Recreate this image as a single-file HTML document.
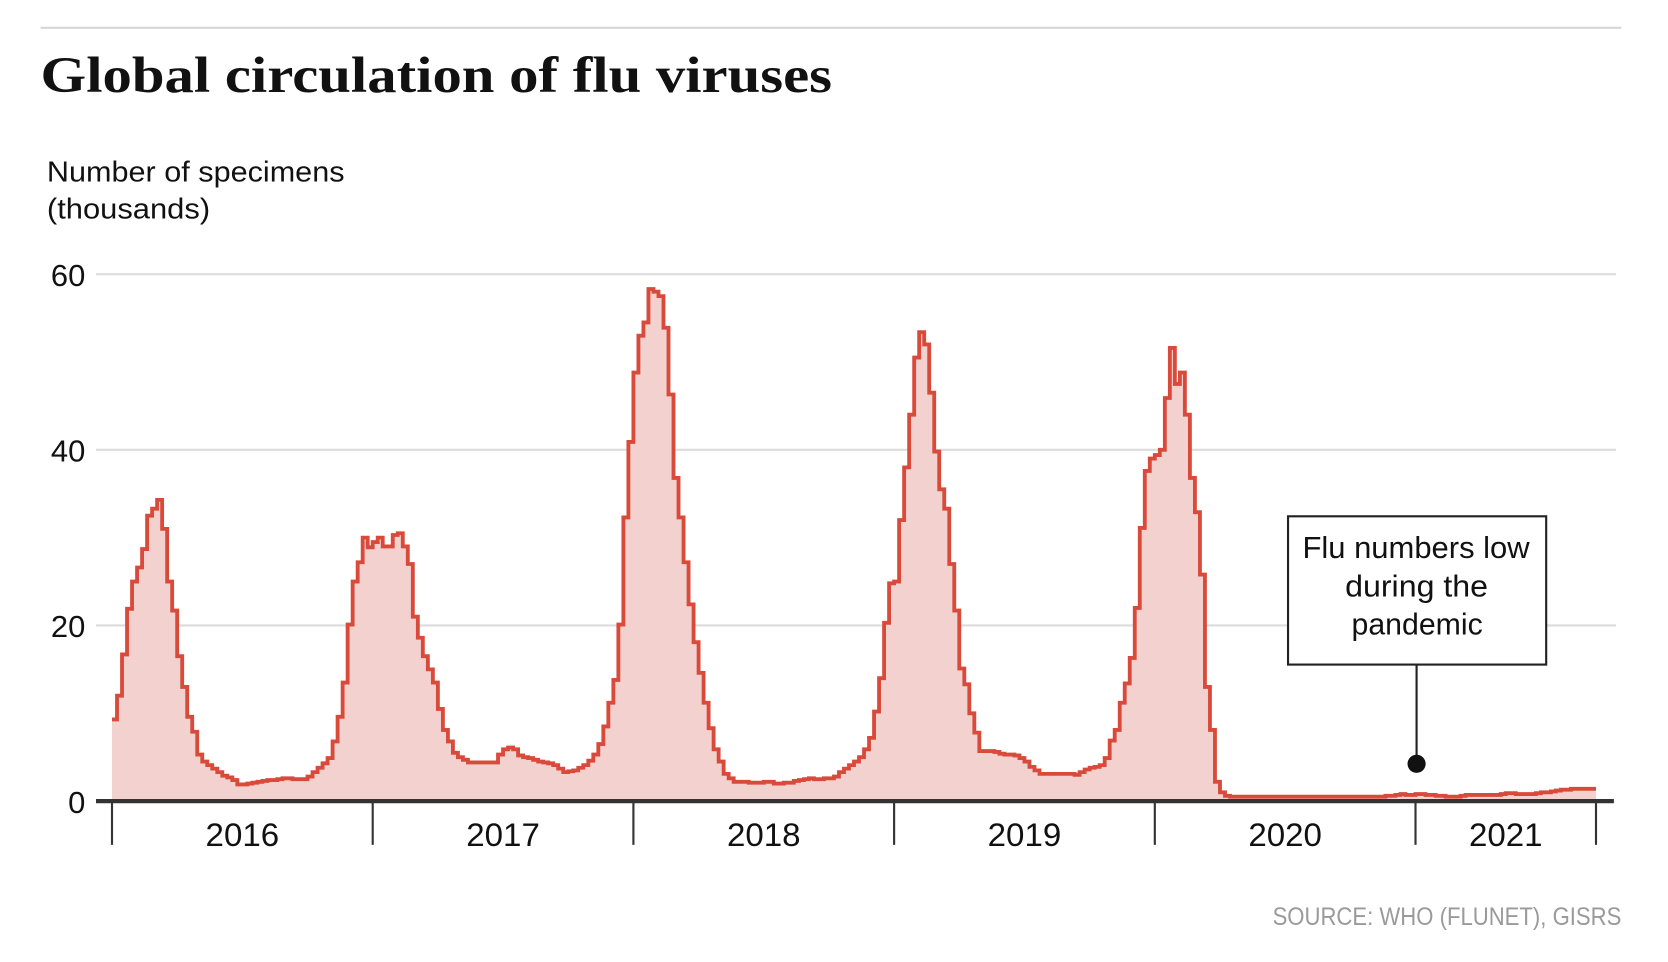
<!DOCTYPE html>
<html><head><meta charset="utf-8"><style>
html,body{margin:0;padding:0;background:#fff;}
svg{display:block;}
</style></head><body>
<svg id="chart" width="1668" height="962" viewBox="0 0 1563.7 901.8" xmlns="http://www.w3.org/2000/svg">
<line x1="38" y1="26" x2="1520" y2="26" stroke="#d6d6d6" stroke-width="2"/>
<text x="38" y="86" font-family="'Liberation Serif',serif" font-weight="bold" font-size="48" textLength="742" lengthAdjust="spacingAndGlyphs" fill="#111">Global circulation of flu viruses</text>
<text font-family="'Liberation Sans Narrow','Liberation Sans',sans-serif" font-size="27" fill="#111">
<tspan x="44" y="170" textLength="279" lengthAdjust="spacingAndGlyphs">Number of specimens</tspan>
<tspan x="44" y="205" textLength="153" lengthAdjust="spacingAndGlyphs">(thousands)</tspan></text>
<g id="grid"></g>
<g id="series"></g>
<g id="axis"></g>
<g>
<line x1="1328" y1="623" x2="1328" y2="716" stroke="#222" stroke-width="2"/>
<circle cx="1328" cy="716" r="8.5" fill="#111"/>
<rect x="1207.5" y="484" width="242" height="139" fill="#fff" stroke="#222" stroke-width="2"/>
<text font-family="'Liberation Sans Narrow','Liberation Sans',sans-serif" font-size="29" fill="#111">
<tspan x="1221" y="523" textLength="213" lengthAdjust="spacingAndGlyphs">Flu numbers low</tspan><tspan x="1261" y="559" textLength="134" lengthAdjust="spacingAndGlyphs">during the</tspan><tspan x="1267" y="595" textLength="123" lengthAdjust="spacingAndGlyphs">pandemic</tspan></text>
</g>
<text x="1520" y="867" text-anchor="end" font-family="'Liberation Sans Narrow','Liberation Sans',sans-serif" font-size="23" fill="#9a9a9a" textLength="327" lengthAdjust="spacingAndGlyphs">SOURCE: WHO (FLUNET), GISRS</text>
</svg>
<script>
const yTicks = [0, 20, 40, 60];
const yearLabels = ["2016", "2017", "2018", "2019", "2020", "2021"];
const flu2016 = [9.3,12,16.7,21.9,25,26.6,28.7,32.5,33.3,34.3,31,25,21.7,16.5,13,9.6,7.9,5.3,4.5,4.1,3.7,3.3,2.9,2.7,2.4,1.9,1.9,2.0,2.1,2.2,2.3,2.4,2.4,2.5,2.6,2.6,2.5,2.5,2.5,2.8,3.3,3.8,4.3,4.9,6.8,9.6,13.5,20.1,25,27.2,30,28.9];
const flu2017 = [29.5,30,29,29,30.3,30.5,29,27,21,18.6,16.5,15,13.5,10.5,8.1,6.8,5.5,5,4.7,4.4,4.4,4.4,4.4,4.4,4.4,5.3,5.9,6.1,5.9,5.2,5.0,4.9,4.7,4.5,4.4,4.3,4.1,3.7,3.3,3.4,3.5,3.8,4.1,4.6,5.3,6.5,8.5,11.2,13.8,20.1,32.3,40.9];
const flu2018 = [48.8,53,54.5,58.3,58,57.5,53.9,46.3,36.8,32.3,27.2,22.4,18.1,14.6,11.2,8.3,5.9,4.5,3.1,2.6,2.2,2.2,2.2,2.1,2.1,2.1,2.2,2.2,2.0,2.0,2.1,2.1,2.3,2.4,2.5,2.6,2.5,2.5,2.6,2.6,2.8,3.3,3.7,4.1,4.5,5.0,5.9,7.2,10.2,14,20.3,24.8];
const flu2019 = [25,32,38,44,50.5,53.4,52,46.5,39.8,35.5,33.3,27,21.7,15.1,13.3,10,7.8,5.7,5.7,5.7,5.6,5.4,5.3,5.3,5.2,4.9,4.5,3.9,3.5,3.1,3.1,3.1,3.1,3.1,3.1,3.1,3.0,3.3,3.6,3.8,3.9,4.1,4.9,6.9,8.1,11.2,13.4,16.3,22,31.1,37.6,39];
const flu2020 = [39.4,40,45.9,51.6,47.5,48.8,44,36.8,32.9,25.8,13,8.1,2.2,1.0,0.6,0.5,0.5,0.5,0.5,0.5,0.5,0.5,0.5,0.5,0.5,0.5,0.5,0.5,0.5,0.5,0.5,0.5,0.5,0.5,0.5,0.5,0.5,0.5,0.5,0.5,0.5,0.5,0.5,0.5,0.5,0.5,0.6,0.6,0.7,0.8,0.7,0.7];
const flu2021 = [0.8,0.8,0.7,0.7,0.6,0.6,0.5,0.5,0.5,0.6,0.7,0.7,0.7,0.7,0.7,0.7,0.7,0.8,0.9,0.9,0.8,0.8,0.8,0.8,0.9,1.0,1.0,1.1,1.2,1.3,1.3,1.4,1.4,1.4,1.4,1.4];

const NS = "http://www.w3.org/2000/svg";
const X0 = 105, WEEK = 244.4 / 52, Y0 = 751, YPX = 494 / 60;
function xScale(w) { return X0 + w * WEEK; }
function yScale(v) { return Y0 - v * YPX; }
function mk(tag, attrs, parent) {
  const e = document.createElementNS(NS, tag);
  for (const k in attrs) e.setAttribute(k, attrs[k]);
  parent.appendChild(e);
  return e;
}
const grid = document.getElementById("grid");
const series = document.getElementById("series");
const axis = document.getElementById("axis");

yTicks.forEach(t => {
  if (t > 0) {
    const l = mk("line", {x1: 90, x2: 1515, y1: yScale(t), y2: yScale(t), stroke: "#dcdcdc", "stroke-width": 2}, grid);
    
    
  }
  const tx = mk("text", {x: 80, y: yScale(t) + 11, "text-anchor": "end", "font-family": "'Liberation Sans Narrow','Liberation Sans',sans-serif", "font-size": 29, fill: "#111"}, grid);
  tx.textContent = String(t);
  
  
});

const years = [flu2016, flu2017, flu2018, flu2019, flu2020, flu2021];
const values = [].concat(...years);
let d = "M" + xScale(0) + "," + yScale(values[0]);
values.forEach((v, i) => {
  d += " L" + xScale(i) + "," + yScale(v) + " L" + xScale(i + 1) + "," + yScale(v);
});
const area = mk("path", {d: d + " L" + xScale(values.length) + "," + Y0 + " L" + xScale(0) + "," + Y0 + " Z", fill: "#f3d1cf", stroke: "none"}, series);


const line = mk("path", {d: d, fill: "none", stroke: "#d94a3b", "stroke-width": 3.6, "stroke-linejoin": "miter"}, series);



const base = mk("line", {x1: 90, x2: 1513, y1: Y0, y2: Y0, stroke: "#333", "stroke-width": 4}, axis);


let start = 0;
const bounds = [0];
years.forEach(y => { start += y.length; bounds.push(start); });
bounds.forEach((b, i) => {
  const tk = mk("line", {x1: xScale(b), x2: xScale(b), y1: Y0, y2: 792, stroke: "#333", "stroke-width": 2}, axis);
  
  
});
yearLabels.forEach((lab, i) => {
  const cx = (xScale(bounds[i]) + xScale(bounds[i + 1])) / 2;
  const t = mk("text", {x: cx, y: 793, "text-anchor": "middle", "font-family": "'Liberation Sans Narrow','Liberation Sans',sans-serif", "font-size": 30, fill: "#111", textLength: 69, lengthAdjust: "spacingAndGlyphs"}, axis);
  t.textContent = lab;
  
  
});
</script>
</body></html>
